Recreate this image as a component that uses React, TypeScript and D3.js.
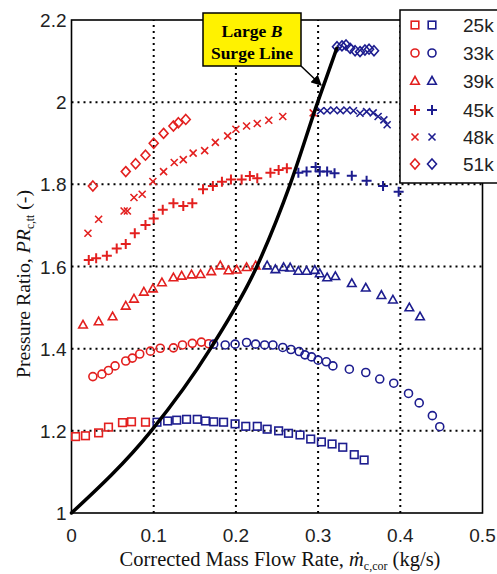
import React from 'react';
import * as d3 from 'd3';

const xTicks = [0, 0.1, 0.2, 0.3, 0.4, 0.5];
const yTicks = [1, 1.2, 1.4, 1.6, 1.8, 2, 2.2];
const speedLabels = ['25k', '33k', '39k', '45k', '48k', '51k'];
const markerTypes = ['square', 'circle', 'triangle', 'plus', 'cross', 'diamond'];

const red25kX = [0.005, 0.017, 0.033, 0.045, 0.062, 0.073, 0.090];
const red25kY = [1.186, 1.188, 1.195, 1.209, 1.220, 1.222, 1.221];
const blue25kX = [0.104, 0.117, 0.128, 0.140, 0.153, 0.163, 0.173, 0.185, 0.199, 0.212, 0.226, 0.238, 0.252, 0.264, 0.278, 0.291, 0.304, 0.317, 0.330, 0.344, 0.356];
const blue25kY = [1.221, 1.224, 1.226, 1.228, 1.228, 1.224, 1.222, 1.221, 1.217, 1.211, 1.211, 1.204, 1.200, 1.194, 1.190, 1.180, 1.173, 1.168, 1.160, 1.142, 1.129];

const red33kX = [0.026, 0.037, 0.045, 0.053, 0.066, 0.074, 0.083, 0.096, 0.108, 0.124, 0.135, 0.147, 0.158, 0.167];
const red33kY = [1.332, 1.338, 1.347, 1.358, 1.370, 1.377, 1.387, 1.394, 1.401, 1.402, 1.409, 1.413, 1.416, 1.412];
const blue33kX = [0.173, 0.187, 0.199, 0.213, 0.224, 0.235, 0.245, 0.257, 0.267, 0.277, 0.284, 0.292, 0.300, 0.310, 0.318, 0.338, 0.358, 0.375, 0.392, 0.410, 0.423, 0.439, 0.448];
const blue33kY = [1.411, 1.409, 1.411, 1.415, 1.411, 1.409, 1.409, 1.403, 1.398, 1.393, 1.385, 1.380, 1.372, 1.368, 1.358, 1.350, 1.342, 1.326, 1.316, 1.291, 1.268, 1.237, 1.210];

const red39kX = [0.014, 0.033, 0.050, 0.066, 0.076, 0.088, 0.099, 0.110, 0.124, 0.134, 0.146, 0.157, 0.170, 0.181, 0.191, 0.201, 0.213, 0.224];
const red39kY = [1.458, 1.466, 1.478, 1.504, 1.521, 1.538, 1.546, 1.561, 1.573, 1.577, 1.580, 1.581, 1.588, 1.602, 1.590, 1.592, 1.598, 1.602];
const blue39kX = [0.238, 0.248, 0.258, 0.266, 0.276, 0.286, 0.296, 0.302, 0.311, 0.321, 0.341, 0.358, 0.377, 0.391, 0.411, 0.424];
const blue39kY = [1.602, 1.593, 1.598, 1.597, 1.589, 1.589, 1.591, 1.583, 1.573, 1.576, 1.559, 1.548, 1.530, 1.519, 1.500, 1.478];

const red45kX = [0.021, 0.030, 0.043, 0.055, 0.066, 0.077, 0.090, 0.100, 0.111, 0.124, 0.136, 0.147, 0.160, 0.172, 0.183, 0.194, 0.207, 0.217, 0.226, 0.242, 0.252, 0.262];
const red45kY = [1.616, 1.620, 1.626, 1.644, 1.655, 1.681, 1.701, 1.717, 1.738, 1.754, 1.747, 1.754, 1.788, 1.796, 1.806, 1.812, 1.812, 1.820, 1.815, 1.828, 1.835, 1.839];
const blue45kX = [0.276, 0.286, 0.297, 0.302, 0.311, 0.320, 0.341, 0.359, 0.379, 0.398];
const blue45kY = [1.828, 1.831, 1.842, 1.831, 1.831, 1.827, 1.821, 1.809, 1.796, 1.782];

const red48kX = [0.020, 0.033, 0.064, 0.068, 0.076, 0.086, 0.099, 0.112, 0.125, 0.136, 0.148, 0.162, 0.175, 0.190, 0.200, 0.213, 0.226, 0.240, 0.257, 0.294];
const red48kY = [1.681, 1.715, 1.735, 1.735, 1.768, 1.776, 1.807, 1.831, 1.853, 1.860, 1.876, 1.882, 1.902, 1.918, 1.934, 1.942, 1.948, 1.956, 1.965, 1.974];
const blue48kX = [0.303, 0.311, 0.319, 0.327, 0.335, 0.343, 0.351, 0.359, 0.367, 0.373, 0.380, 0.384];
const blue48kY = [1.979, 1.979, 1.981, 1.979, 1.981, 1.979, 1.973, 1.977, 1.974, 1.965, 1.957, 1.945];

const red51kX = [0.026, 0.066, 0.078, 0.090, 0.100, 0.112, 0.124, 0.130, 0.139];
const red51kY = [1.796, 1.831, 1.850, 1.871, 1.900, 1.924, 1.942, 1.950, 1.958];
const blue51kX = [0.323, 0.329, 0.334, 0.339, 0.345, 0.351, 0.357, 0.362, 0.368];
const blue51kY = [2.135, 2.137, 2.139, 2.131, 2.125, 2.123, 2.127, 2.129, 2.125];

const surgeX = [0, 0.097, 0.169, 0.2255, 0.266, 0.2995, 0.3227];
const surgeY = [1.0, 1.2, 1.4, 1.6, 1.8, 2.0, 2.131];

const RED = '#e3201f';
const BLUE = '#1d1d8f';

const redSeries = [
  [red25kX, red25kY], [red33kX, red33kY], [red39kX, red39kY],
  [red45kX, red45kY], [red48kX, red48kY], [red51kX, red51kY],
];
const blueSeries = [
  [blue25kX, blue25kY], [blue33kX, blue33kY], [blue39kX, blue39kY],
  [blue45kX, blue45kY], [blue48kX, blue48kY], [blue51kX, blue51kY],
];

const W = 497;
const H = 574;
const x = d3.scaleLinear().domain([0, 0.5]).range([71.5, 482.5]);
const y = d3.scaleLinear().domain([1, 2.2]).range([513, 20]);

function Marker({ type, cx, cy, color }: { type: string; cx: number; cy: number; color: string }) {
  const common = { fill: 'none', stroke: color, strokeWidth: 1.6 };
  switch (type) {
    case 'square':
      return <rect x={cx - 3.8} y={cy - 3.8} width={7.6} height={7.6} {...common} />;
    case 'circle':
      return <circle cx={cx} cy={cy} r={4} {...common} />;
    case 'triangle':
      return <path d={`M${cx},${cy - 4.5}L${cx + 4.3},${cy + 3.2}L${cx - 4.3},${cy + 3.2}Z`} {...common} />;
    case 'plus':
      return <path d={`M${cx - 5},${cy}H${cx + 5}M${cx},${cy - 5}V${cy + 5}`} {...common} strokeWidth={2} />;
    case 'cross':
      return <path d={`M${cx - 3.5},${cy - 3.5}L${cx + 3.5},${cy + 3.5}M${cx - 3.5},${cy + 3.5}L${cx + 3.5},${cy - 3.5}`} {...common} />;
    case 'diamond':
      return <path d={`M${cx},${cy - 5}L${cx + 4.5},${cy}L${cx},${cy + 5}L${cx - 4.5},${cy}Z`} {...common} />;
    default:
      return null;
  }
}

export default function App() {
  const surgePts = surgeX.map((v, i) => [x(v), y(surgeY[i])] as [number, number]);
  const surgePath = d3.line().curve(d3.curveMonotoneX)(surgePts) || '';
  const gridX = xTicks.filter((t) => t > 0 && t < 0.5);
  const gridY = yTicks.filter((t) => t > 1 && t < 2.2);
  const [x0, x1] = x.range();
  const [y0, y1] = y.range();
  const legendRowY = [25, 53, 81, 110, 137, 164];

  return (
    <svg width={W} height={H} style={{ position: 'absolute', left: 0, top: 0, background: '#fff' }}>
      <defs>
        <marker id="arr" viewBox="0 0 10 10" refX="9" refY="5" markerWidth="7" markerHeight="7" orient="auto">
          <path d="M0,0L10,5L0,10Z" fill="#000" />
        </marker>
      </defs>
      <rect x={0} y={0} width={W} height={H} fill="#fff" />
      {gridX.map((t) => (
        <line key={'gx' + t} x1={x(t)} x2={x(t)} y1={y0} y2={y1} stroke="#000" strokeWidth={2} strokeDasharray="2,4" />
      ))}
      {gridY.map((t) => (
        <line key={'gy' + t} x1={x0} x2={x1} y1={y(t)} y2={y(t)} stroke="#000" strokeWidth={2} strokeDasharray="2,4" />
      ))}
      <rect x={x0} y={y1} width={x1 - x0} height={y0 - y1} fill="none" stroke="#000" strokeWidth={1.6} />
      {xTicks.map((t) => (
        <text key={'xt' + t} x={x(t)} y={y0 + 29} textAnchor="middle" fontFamily="Liberation Sans, Arial, sans-serif" fontSize={19} fill="#222">
          {d3.format('~g')(t)}
        </text>
      ))}
      {yTicks.map((t) => (
        <text key={'yt' + t} x={x0 - 5} y={y(t) + 7} textAnchor="end" fontFamily="Liberation Sans, Arial, sans-serif" fontSize={19} fill="#222">
          {d3.format('~g')(t)}
        </text>
      ))}
      <text x={280} y={566} textAnchor="middle" fontFamily="Liberation Serif, Times New Roman, serif" fontSize={20.5} fill="#111">
        Corrected  Mass Flow Rate, <tspan fontStyle="italic">ṁ</tspan>
        <tspan fontSize={12} dy={4}>c,cor</tspan>
        <tspan dy={-4}> (kg/s)</tspan>
      </text>
      <text transform="translate(30,284) rotate(-90)" textAnchor="middle" fontFamily="Liberation Serif, Times New Roman, serif" fontSize={19.8} fill="#111">
        Pressure Ratio, <tspan fontStyle="italic">PR</tspan>
        <tspan fontSize={11.5} dy={4}>c,tt</tspan>
        <tspan dy={-4}> (-)</tspan>
      </text>
      {redSeries.map(([xs, ys], si) =>
        xs.map((v, i) => <Marker key={`r${si}-${i}`} type={markerTypes[si]} cx={x(v)} cy={y(ys[i])} color={RED} />)
      )}
      {blueSeries.map(([xs, ys], si) =>
        xs.map((v, i) => <Marker key={`b${si}-${i}`} type={markerTypes[si]} cx={x(v)} cy={y(ys[i])} color={BLUE} />)
      )}
      <path d={surgePath} fill="none" stroke="#000" strokeWidth={3.5} strokeLinecap="round" />
      <line x1={301} y1={66} x2={321} y2={85} stroke="#000" strokeWidth={1.5} markerEnd="url(#arr)" />
      <rect x={203} y={13} width={98} height={53} fill="#fff200" stroke="#000" strokeWidth={1.5} />
      <text x={252} y={37} textAnchor="middle" fontFamily="Liberation Serif, Times New Roman, serif" fontWeight="bold" fontSize={17.5} fill="#000">
        Large <tspan fontStyle="italic">B</tspan>
      </text>
      <text x={252} y={59} textAnchor="middle" fontFamily="Liberation Serif, Times New Roman, serif" fontWeight="bold" fontSize={17.5} fill="#000">
        Surge Line
      </text>
      <rect x={400} y={10} width={120} height={173} fill="#fff" stroke="#000" strokeWidth={1.5} />
      {speedLabels.map((lab, i) => (
        <g key={lab}>
          <Marker type={markerTypes[i]} cx={415} cy={legendRowY[i]} color={RED} />
          <Marker type={markerTypes[i]} cx={432} cy={legendRowY[i]} color={BLUE} />
          <text x={463} y={legendRowY[i] + 7} fontFamily="Liberation Sans, Arial, sans-serif" fontSize={19} fill="#222">
            {lab}
          </text>
        </g>
      ))}
    </svg>
  );
}
